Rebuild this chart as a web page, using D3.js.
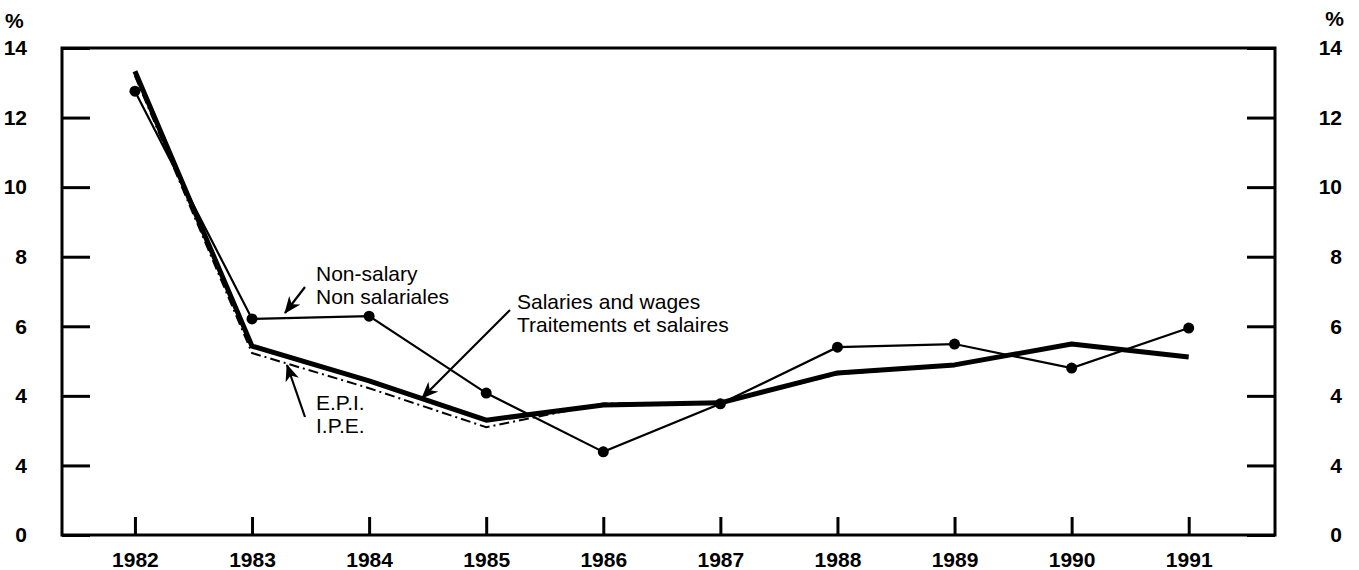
<!DOCTYPE html>
<html>
<head>
<meta charset="utf-8">
<script src="https://cdn.jsdelivr.net/npm/d3@7"></script>
<style>
  body { margin: 0; background: #fff; }
  svg text { font-family: "Liberation Sans", Arial, Helvetica, sans-serif; fill: #000; }
  .tick text { font-size: 21px; font-weight: bold; }
  .note { font-size: 21px; }
</style>
</head>
<body>
<svg width="1359" height="570"></svg>
<script>
var years = [1982, 1983, 1984, 1985, 1986, 1987, 1988, 1989, 1990, 1991];
var nonSalary = [12.76, 6.21, 6.29, 4.08, 2.39, 3.77, 5.40, 5.49, 4.80, 5.95];
var salaries = [13.33, 5.43, 4.43, 3.30, 3.74, 3.80, 4.66, 4.89, 5.49, 5.12];
var epi = [13.2, 5.23, 4.22, 3.10, 3.78, 3.80, 4.62, 4.87, 5.50, 5.10];
var yTicks = [0, 2, 4, 6, 8, 10, 12, 14];
var yTickLabels = ["0", "4", "4", "6", "8", "10", "12", "14"];

var svg = d3.select("svg");
var plotLeft = 62, plotRight = 1275, plotTop = 48, plotBottom = 535;

var x = d3.scaleLinear().domain([1981.377, 1991.737]).range([plotLeft, plotRight]);
var y = d3.scaleLinear().domain([0, 14]).range([plotBottom, plotTop]);

// axes
svg.append("g")
    .attr("transform", "translate(" + plotLeft + ",0)")
    .call(d3.axisLeft(y).tickValues(yTicks).tickFormat(function(d, i) { return yTickLabels[i]; })
        .tickSize(-28).tickPadding(35))
    .call(function(g) { g.select(".domain").remove(); });

svg.append("g")
    .attr("transform", "translate(" + plotRight + ",0)")
    .call(d3.axisRight(y).tickValues(yTicks).tickFormat(function(d, i) { return yTickLabels[i]; })
        .tickSize(-28))
    .call(function(g) {
        g.select(".domain").remove();
        g.selectAll(".tick text").attr("x", 67).attr("text-anchor", "end");
    });

svg.append("g")
    .attr("transform", "translate(0," + plotBottom + ")")
    .call(d3.axisBottom(x).tickValues(years).tickFormat(d3.format("d")).tickSize(-18).tickPadding(17))
    .call(function(g) { g.select(".domain").remove(); });

svg.selectAll(".tick line").attr("stroke", "#000").attr("stroke-width", 3);

svg.append("rect")
    .attr("x", plotLeft).attr("y", plotTop)
    .attr("width", plotRight - plotLeft).attr("height", plotBottom - plotTop)
    .attr("fill", "none").attr("stroke", "#000").attr("stroke-width", 3);

svg.append("text").attr("x", 5).attr("y", 28).style("font-size", "21px").style("font-weight", "bold").text("%");
svg.append("text").attr("x", 1344).attr("y", 26).attr("text-anchor", "end")
    .style("font-size", "21px").style("font-weight", "bold").text("%");

// lines
var line = d3.line()
    .x(function(d, i) { return x(years[i]); })
    .y(function(d) { return y(d); });

svg.append("path").datum(epi)
    .attr("d", line).attr("fill", "none").attr("stroke", "#000")
    .attr("stroke-width", 2).attr("stroke-dasharray", "10,4,2,4");

svg.append("path").datum(salaries)
    .attr("d", line).attr("fill", "none").attr("stroke", "#000")
    .attr("stroke-width", 5).attr("stroke-linejoin", "round");

svg.append("path").datum(nonSalary)
    .attr("d", line).attr("fill", "none").attr("stroke", "#000")
    .attr("stroke-width", 2.2);

svg.selectAll("circle.ns").data(nonSalary).enter().append("circle")
    .attr("class", "ns")
    .attr("cx", function(d, i) { return x(years[i]); })
    .attr("cy", function(d) { return y(d); })
    .attr("r", 5.5).attr("fill", "#000");

// annotations
svg.append("defs").append("marker")
    .attr("id", "arrow").attr("viewBox", "0 -7 17 14")
    .attr("refX", 16).attr("refY", 0)
    .attr("markerWidth", 17).attr("markerHeight", 14)
    .attr("markerUnits", "userSpaceOnUse").attr("orient", "auto")
    .append("path").attr("d", "M0,-7L17,0L0,7L5,0Z").attr("fill", "#000");

function arrow(x1, y1, x2, y2) {
    svg.append("line")
        .attr("x1", x1).attr("y1", y1).attr("x2", x2).attr("y2", y2)
        .attr("stroke", "#000").attr("stroke-width", 2.2)
        .attr("marker-end", "url(#arrow)");
}

arrow(305, 287, 285, 313);
arrow(510, 310, 422, 398);
arrow(305, 417, 287, 365);

function note(px, py, lines) {
    var t = svg.append("text").attr("class", "note").attr("x", px).attr("y", py);
    lines.forEach(function(s, i) {
        t.append("tspan").attr("x", px).attr("dy", i ? 23 : 0).text(s);
    });
}
note(316, 281, ["Non-salary", "Non salariales"]);
note(517, 309, ["Salaries and wages", "Traitements et salaires"]);
note(316, 410, ["E.P.I.", "I.P.E."]);
</script>
</body>
</html>
